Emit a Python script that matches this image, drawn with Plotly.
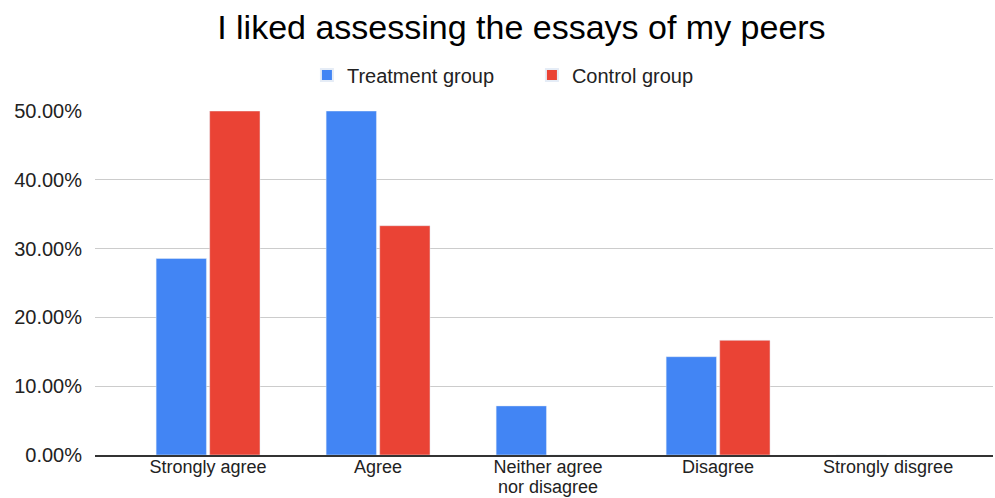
import plotly.graph_objects as go

categories = ["Strongly agree", "Agree", "Neither agree nor disagree", "Disagree", "Strongly disgree"]
tick_labels = ["Strongly agree", "Agree", "Neither agree", "Disagree", "Strongly disgree"]
second_line = {"Neither agree nor disagree": "nor disagree"}
treatment = [0.2857, 0.50, 0.0714, 0.1429, 0.0]
control = [0.50, 0.3333, 0.0, 0.1667, 0.0]
y_ticks = [0, 0.1, 0.2, 0.3, 0.4, 0.5]

fig = go.Figure()
fig.add_trace(go.Bar(x=categories, y=treatment, name="Treatment group", marker_color="#4285F4"))
fig.add_trace(go.Bar(x=categories, y=control, name="Control group", marker_color="#EA4335"))

font = "Liberation Sans, Arial, sans-serif"
fig.update_layout(
    width=995, height=498,
    margin=dict(l=95, r=2, t=111, b=43, autoexpand=False),
    paper_bgcolor="white", plot_bgcolor="white",
    barmode="group", bargap=0.37, bargroupgap=0.06,
    title=dict(text="I liked assessing the essays of my peers", x=0.524, xanchor="center",
               y=0.945, yanchor="middle", font=dict(family=font, size=34, color="#000000")),
    legend=dict(orientation="h", x=0.236, xanchor="left", y=1.105, yanchor="middle",
                font=dict(family=font, size=20, color="#222222"), itemsizing="constant",
                entrywidth=180, entrywidthmode="pixels"),
    font=dict(family=font),
)
for cat, txt in second_line.items():
    fig.add_annotation(x=cat, xref="x", y=0, yref="paper", yanchor="middle", yshift=-32,
                       text=txt, showarrow=False, borderpad=0,
                       font=dict(family=font, size=18, color="#222222"))
fig.update_xaxes(range=[-0.665, 4.617], tickvals=categories, ticktext=tick_labels,
                 showgrid=False, showline=True, linecolor="#333333",
                 linewidth=1.5, ticks="", automargin=False, ticklabelstandoff=-5,
                 tickfont=dict(family=font, size=18, color="#222222"))
fig.update_yaxes(range=[0, 0.5], tickvals=y_ticks, tickformat=".2%", showgrid=True,
                 gridcolor="#cccccc", gridwidth=1, zeroline=False, ticks="", ticklabelstandoff=12,
                 automargin=False, tickfont=dict(family=font, size=20, color="#222222"))

fig.write_html("out.html")
